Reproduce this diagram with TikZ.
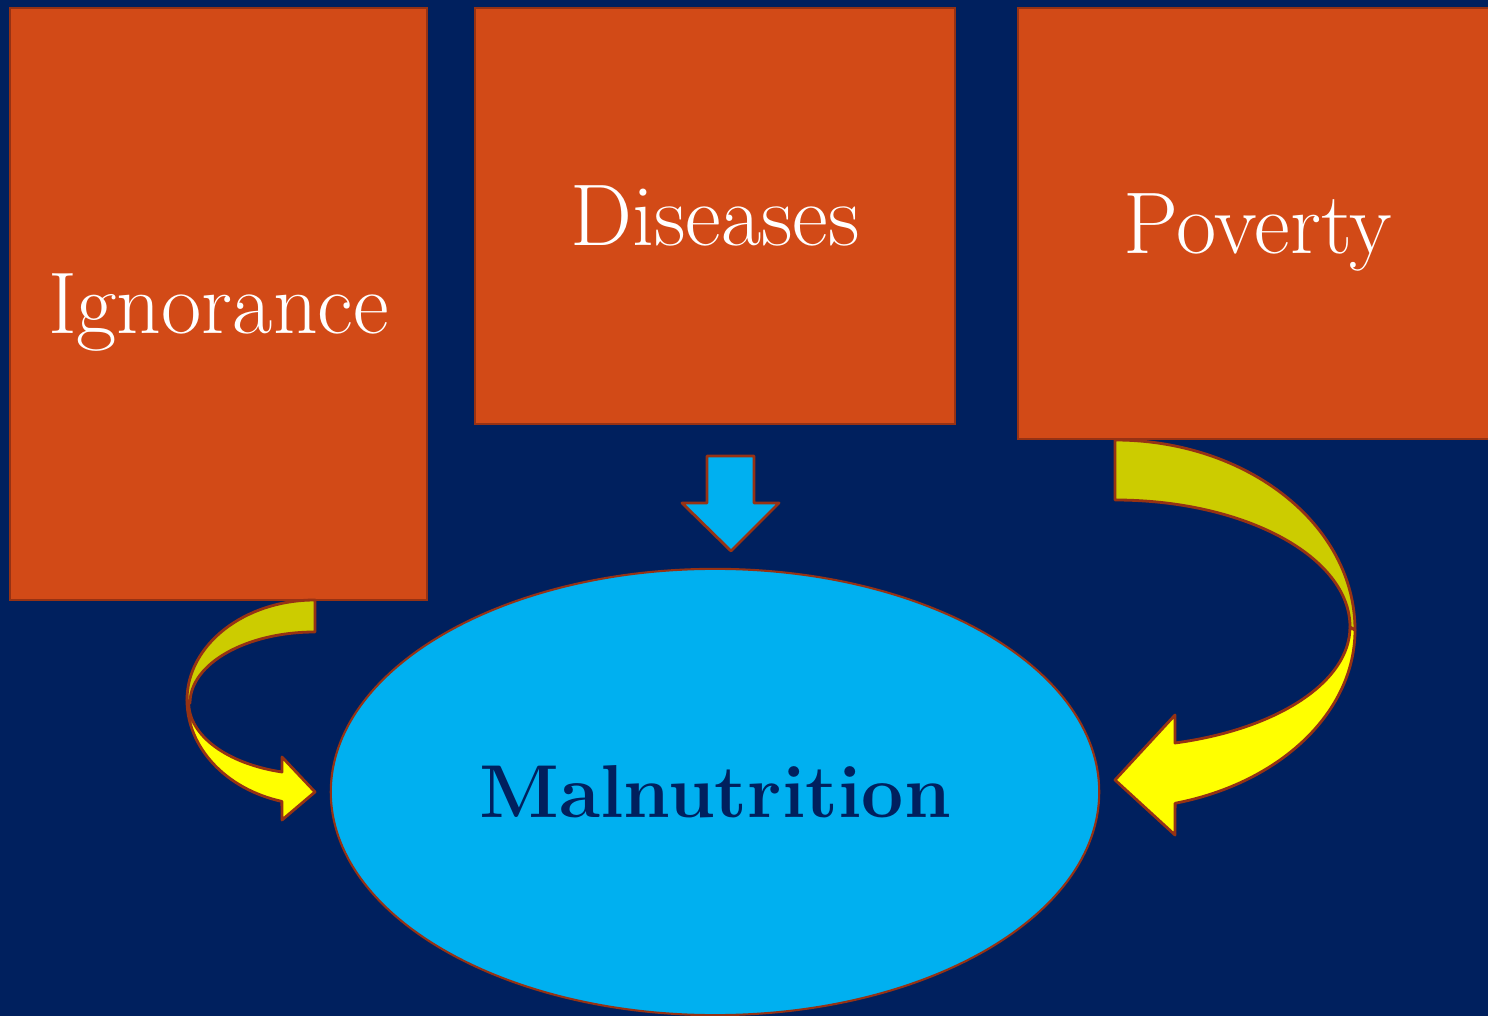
\documentclass[tikz,border=0pt]{standalone}
\usetikzlibrary{shapes.geometric}
\definecolor{navy}{RGB}{0,32,94}
\definecolor{rust}{RGB}{210,74,23}
\definecolor{edge}{RGB}{150,50,20}
\definecolor{sky}{RGB}{0,176,240}
\definecolor{gold}{RGB}{204,204,0}
\definecolor{lemon}{RGB}{255,255,0}
\begin{document}
\begin{tikzpicture}[x=0.01cm,y=0.01cm,
cause/.style={draw=edge,fill=rust,line width=0.6pt,text=white,text depth=0pt,
  font=\fontsize{24.9}{30}\selectfont},
blockarrow/.style={draw=edge,line width=0.8pt,line join=round}]
\clip (0,0) rectangle (1488,-1016);
\fill[navy] (0,0) rectangle (1488,-1016);
% the three causes
\node[cause,minimum width=4.17cm,minimum height=5.92cm] (ign) at (218.5,-304) {Ignorance};
\node[cause,minimum width=4.8cm,minimum height=4.16cm] (dis) at (715,-216) {Diseases};
\node[cause,minimum width=4.8cm,minimum height=4.31cm] (pov) at (1258,-223.5) {Poverty};
% the result
\node[ellipse,draw=edge,fill=sky,line width=0.6pt,inner sep=0pt,text depth=0pt,
  minimum width=7.68cm,minimum height=4.46cm,text=navy,
  font=\fontsize{21.3}{26}\selectfont\bfseries] (mal) at (715,-792) {Malnutrition};
% down arrow
\draw[blockarrow,fill=sky] (707,-456)--(754,-456)--(754,-503)--(779,-503)--(731,-551)
--(682,-503)--(707,-503)--cycle;
% left arrow
\draw[blockarrow,fill=gold] (315,-600) arc[start angle=90,end angle=180,x radius=128,y radius=100]
--(190,-703) arc[start angle=180,end angle=90,x radius=125,y radius=71]--cycle;
\draw[blockarrow,fill=lemon] (187,-700) arc[start angle=180,end angle=255,x radius=128,y radius=105]
--(282,-820)--(315,-792)--(282,-757)--(282,-772)
arc[start angle=255.3,end angle=180,x radius=125,y radius=71.5]--cycle;
% right arrow
\draw[blockarrow,fill=lemon] (1355,-630) arc[start angle=0,end angle=-75.5,x radius=240,y radius=179]
--(1175,-835)--(1115,-780)--(1175,-715)--(1175,-743)
arc[start angle=-75.2,end angle=0,x radius=235,y radius=120]--cycle;
\draw[blockarrow,fill=gold] (1115,-440) arc[start angle=90,end angle=0,x radius=240,y radius=190]
--(1350,-627) arc[start angle=0,end angle=90,x radius=235,y radius=127]--cycle;
\end{tikzpicture}
\end{document}
